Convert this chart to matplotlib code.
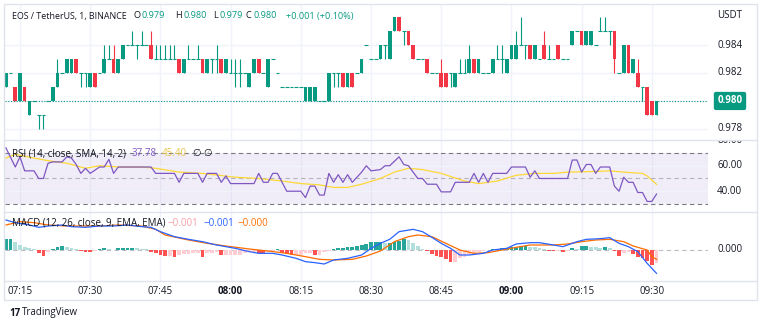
import numpy as np
import matplotlib
matplotlib.use("Agg")
import matplotlib.pyplot as plt
from matplotlib.transforms import blended_transform_factory, Bbox, TransformedBbox

# 1-minute EOS/USDT candles, 07:12 .. 09:31, prices in thousandths of USDT
opens = [981, 982, 981, 980, 981, 979, 980, 979, 979, 980,
         980, 981, 982, 982, 982, 983, 982, 982, 981, 982,
         982, 982, 983, 983, 982, 983, 984, 984, 984, 984,
         984, 984, 983, 983, 983, 983, 983, 983, 982, 983,
         983, 983, 983, 982, 983, 983, 983, 982, 982, 982,
         982, 982, 981, 982, 983, 982, 981, 983, 982, 981,
         981, 981, 981, 981, 980, 980, 980, 980, 980, 980,
         982, 982, 982, 981, 982, 982, 982, 984, 983, 983,
         983, 984, 983, 985, 986, 985, 985, 984, 983, 983,
         983, 982, 982, 982, 982, 982, 981, 982, 982, 982,
         983, 982, 982, 982, 982, 983, 983, 982, 983, 983,
         984, 984, 984, 983, 983, 984, 983, 983, 984, 983,
         983, 984, 985, 985, 984, 984, 984, 985, 985, 985,
         985, 982, 982, 984, 982, 982, 981, 981, 980, 979]
highs = [982, 982, 981, 982, 981, 980, 980, 979, 979, 980,
         981, 983, 982, 983, 983, 983, 982, 982, 982, 982,
         982, 984, 984, 984, 983, 984, 984, 985, 984, 985,
         984, 985, 984, 984, 984, 984, 984, 983, 983, 984,
         983, 984, 983, 983, 983, 984, 983, 983, 983, 983,
         983, 982, 982, 983, 983, 982, 983, 983, 982, 981,
         981, 981, 981, 981, 981, 981, 981, 980, 980, 982,
         982, 982, 982, 982, 982, 982, 983, 984, 983, 983,
         984, 984, 985, 986, 986, 985, 985, 984, 983, 983,
         983, 982, 982, 983, 982, 982, 982, 983, 983, 984,
         983, 983, 982, 982, 983, 984, 984, 983, 984, 985,
         986, 984, 984, 984, 983, 985, 984, 983, 984, 983,
         983, 985, 985, 985, 985, 985, 984, 986, 986, 985,
         985, 982, 984, 984, 983, 983, 981, 981, 980, 980]
lows = [981, 982, 980, 980, 980, 979, 980, 978, 978, 980,
        980, 981, 982, 982, 982, 982, 981, 981, 981, 981,
        982, 982, 983, 982, 982, 983, 984, 984, 983, 984,
        984, 983, 983, 983, 983, 983, 983, 982, 982, 983,
        983, 983, 982, 982, 982, 982, 982, 982, 982, 981,
        981, 982, 981, 982, 982, 982, 981, 983, 982, 981,
        981, 981, 981, 981, 980, 980, 980, 980, 980, 980,
        981, 981, 981, 981, 981, 982, 982, 984, 983, 983,
        983, 983, 983, 985, 985, 984, 984, 983, 983, 983,
        982, 982, 982, 981, 981, 981, 981, 982, 982, 982,
        982, 982, 982, 982, 982, 983, 982, 982, 983, 983,
        984, 983, 983, 983, 983, 983, 983, 983, 983, 983,
        983, 984, 985, 984, 984, 984, 984, 985, 985, 984,
        982, 982, 982, 982, 982, 981, 980, 979, 979, 979]
closes = [982, 982, 980, 982, 980, 980, 980, 979, 979, 980,
          981, 982, 982, 983, 983, 982, 982, 982, 982, 981,
          982, 983, 983, 982, 983, 984, 984, 984, 984, 984,
          984, 983, 983, 983, 983, 983, 983, 982, 983, 983,
          983, 983, 982, 983, 983, 983, 982, 983, 982, 982,
          982, 982, 982, 983, 982, 982, 983, 983, 982, 981,
          981, 981, 981, 981, 981, 981, 981, 980, 980, 982,
          982, 982, 981, 982, 981, 982, 983, 984, 983, 983,
          984, 984, 985, 986, 985, 985, 984, 983, 983, 983,
          982, 982, 982, 981, 981, 982, 982, 982, 982, 983,
          982, 983, 982, 982, 983, 983, 983, 983, 984, 984,
          984, 984, 983, 984, 983, 983, 983, 983, 983, 983,
          983, 985, 985, 984, 985, 985, 984, 985, 985, 985,
          983, 982, 984, 982, 983, 981, 981, 979, 979, 980]

# RSI (14) vertices: candle index, value
rsi_x = [0, 2, 3, 4, 6, 7, 8, 9, 10, 12, 13, 14, 15, 16, 17, 18, 20, 21, 22, 23, 24, 26, 31, 32,
         36, 37, 38, 41, 42, 43, 45, 46, 47, 48, 53, 54, 55, 56, 57, 58, 59, 60, 63, 64, 65, 66,
         67, 68, 69, 70, 71, 72, 73, 74, 76, 77, 78, 80, 81, 82, 84, 85, 86, 88, 89, 90, 92, 93,
         95, 96, 99, 100, 101, 102, 103, 104, 107, 108, 111, 112, 113, 114, 120, 121, 122, 123,
         124, 125, 126, 127, 129, 130, 131, 132, 133, 134, 135, 136, 137, 138, 139]
rsi_v = [74, 59, 67, 56, 56, 50, 50, 62, 63, 63, 67, 66, 61, 54, 58, 54, 59, 59, 65, 54, 59, 59, 59, 54,
         54, 47, 54, 54, 47, 54, 54, 47, 52, 46, 46, 54, 47, 47, 54, 54, 47, 40, 40, 35, 44, 44,
         37, 37, 54, 47, 53, 47, 53, 47, 55, 60, 56, 57, 60, 60, 67, 61, 60, 50, 50, 45.5, 45.5, 39.5,
         39.5, 47, 47, 54, 47, 54, 47, 54, 54, 59, 59, 51, 56, 50, 50, 64.5, 64.5, 55,
         61, 61, 54, 59, 59, 44, 40, 51, 47, 47, 39, 39, 32, 32, 37.78]
# RSI-based SMA (14)
sma_x = [0, 2, 6, 9, 13, 17, 20, 24, 29, 32, 37, 42, 49, 54, 59, 63, 67, 70, 73, 76, 80,
         83, 86, 89, 93, 98, 101, 105, 109, 113, 117, 120, 126, 129, 132, 136, 137, 139]
sma_v = [66, 69, 66, 64, 62, 58, 60, 59, 59, 58, 55, 54, 51, 50, 48, 46, 45, 43, 43, 45.5, 50,
         55, 58, 57, 54, 48, 46, 48, 52.5, 54, 54, 55, 55.5, 56, 55, 54, 52, 45.4]

# MACD (12, 26, 9), values in 1e-5 USDT
macd_x = [0, 2, 5, 7, 9, 12, 14, 17, 20, 23, 26, 29, 31, 33, 36, 39, 42, 45, 49, 52, 54, 57, 59,
          62, 64, 66, 68, 70, 73, 76, 78, 80, 82, 84, 87, 89, 91, 93, 95, 97, 99, 102, 104, 107,
          109, 112, 114, 117, 119, 122, 124, 127, 129, 131, 133, 135, 137, 139]
macd_v = [90, 82, 75, 68, 72, 75, 70, 68, 72, 72, 75, 70, 68, 55, 40, 32, 25, 15, 5, -5, -10, -10, -15,
          -25, -35, -38, -42, -30, -25, -15, 5, 20, 32, 55, 62, 55, 38, 20, 5, -15, -15, -10, 0, 5,
          18, 22, 22, 15, 10, 25, 32, 34, 37, 20, 10, -5, -40, -70]
signal_x = [0, 3, 6, 9, 13, 17, 20, 24, 29, 32, 34, 39, 43, 47, 52, 56, 60, 64, 67, 70, 74, 77, 80,
            83, 86, 88, 91, 94, 97, 100, 103, 106, 109, 112, 114, 117, 120, 123, 126, 129, 132,
            134, 137, 138, 139]
signal_v = [75, 85, 82, 75, 72, 72, 72, 75, 72, 62, 45, 30, 20, 12, 3, -3, -10, -20, -28, -30, -28, -18, -3,
            25, 40, 45, 40, 20, 0, -10, -8, 0, 8, 15, 15, 15, 18, 25, 30, 32, 25,
            12, 0, -20, -28]
hist = [32, 32, 25, 15, 10, 5, 2, -10, -18, -5,
        2, 8, 12, 10, 5, 2, -3, -5, -7, -3,
        2, 5, 2, 1, 5, 5, 6, 7, 5, 3,
        2, -7, -10, -15, -18, -18, -22, -15, -13, -12,
        -10, -8, -20, -10, -8, -6, -15, -15, -15, -15,
        -15, -8, -6, -5, -8, -10, -5, -5, 2, -8,
        -12, -15, -15, -15, -10, -10, -15, -15, -7, -3,
        2, 5, 7, 8, 10, 12, 15, 18, 23, 25,
        25, 20, 22, 25, 28, 32, 30, 20, 12, 2,
        -3, -13, -18, -22, -28, -35, -35, -25, -20, -15,
        -10, -6, -3, 1, 2, 4, 5, 7, 8, 10,
        12, 12, 10, 8, 5, 2, -2, -3, -3, -6,
        -2, 5, 4, 12, 12, 10, 8, 5, 8, 5,
        -2, -18, -10, -6, -13, -20, -25, -32, -45, -40]

time_ticks = [3, 18, 33, 48, 63, 78, 93, 108, 123, 138]
time_labels = ["07:15", "07:30", "07:45", "08:00", "08:15", "08:30", "08:45", "09:00", "09:15", "09:30"]
price_ticks = [0.978, 0.982, 0.984]
rsi_ticks = [40, 60, 80]

W, H = 760, 325
plt.rcParams['font.family'] = ['Open Sans', 'DejaVu Sans']
fig = plt.figure(figsize=(W / 100, H / 100), dpi=100)

GREEN = '#089981'
RED = '#F23645'
TXT = '#131722'
GRID = '#F0F3FA'
LINE = '#E0E3EB'
X0, X1 = -0.2, 150.0


def px_axes(x0, y0, x1, y1):
    ax = fig.add_axes([x0 / W, 1 - y1 / H, (x1 - x0) / W, (y1 - y0) / H])
    ax.set_xlim(X0, X1)
    for s in ax.spines.values():
        s.set_visible(False)
    ax.set_xticks([])
    ax.set_yticks([])
    ax.patch.set_alpha(0)
    for t in time_ticks:
        ax.axvline(t, color=GRID, lw=1, zorder=0)
    return ax


def ftext(x, y, s, **kw):
    kw.setdefault('va', 'center')
    kw.setdefault('fontsize', 7)
    return fig.text(x / W, 1 - y / H, s, **kw)


def scale_label(ax, v, s, clip=None, **kw):
    tr = blended_transform_factory(fig.transFigure, ax.transData)
    t = ax.text(717 / W, v, s, transform=tr, va='center', fontsize=7, color=TXT, **kw)
    if clip is not None:
        x0, y0, x1, y1 = clip
        t.set_clip_path(None)
        t.set_clip_box(TransformedBbox(Bbox.from_extents(x0 / W, 1 - y1 / H, x1 / W, 1 - y0 / H),
                                       fig.transFigure))
        t.set_clip_on(True)
    return t


# outer frame and pane separators
fig.patches.append(plt.Rectangle((4 / W, 1 - 300 / H), 753 / W, 296 / H, transform=fig.transFigure,
                                 fill=False, ec=LINE, lw=1))
for yy in [140, 212, 281]:
    fig.add_artist(plt.Line2D([4 / W, 757 / W], [1 - yy / H, 1 - yy / H], color=LINE, lw=1))

# ---- price pane
ax = px_axes(5, 5, 708, 140)
ax.set_ylim(0.97721, 0.98686)
o = np.array(opens) / 1000
h = np.array(highs) / 1000
l = np.array(lows) / 1000
c = np.array(closes) / 1000
idx = np.arange(len(o))
up = c >= o
col = np.where(up, GREEN, RED)
for p in [0.978, 0.980, 0.982, 0.984]:
    ax.axhline(p, color=GRID, lw=1, zorder=0)
ax.vlines(idx, l, h, colors=col, lw=0.8, zorder=2)
body = np.abs(c - o) > 1e-9
ax.bar(idx[body], np.abs(c - o)[body], bottom=np.minimum(o, c)[body], width=0.78,
       color=col[body], lw=0, zorder=3)
ax.hlines(o[~body], idx[~body] - 0.4, idx[~body] + 0.4, colors=col[~body], lw=0.8, zorder=3)
ax.axhline(c[-1], color=GREEN, lw=0.8, ls=(0, (1, 1.5)), zorder=1)
for p in price_ticks:
    scale_label(ax, p, f"{p:.3f}")
tr = blended_transform_factory(fig.transFigure, ax.transData)
ax.text(730 / W, c[-1], f"{c[-1]:.3f}", transform=tr, ha='center', va='center', fontsize=7,
        color='white', fontweight='bold',
        bbox=dict(boxstyle='round,pad=0.3,rounding_size=0.15', fc=GREEN, ec=GREEN))
ftext(717, 16, "USDT", color=TXT)

# header legend
ftext(12, 16, "EOS / TetherUS, 1, BINANCE", color=TXT, fontsize=6.4)
for x, s, cc in [(134, "O", TXT), (142, "0.979", GREEN), (175, "H", TXT), (183, "0.980", GREEN),
                 (213, "L", TXT), (219, "0.979", GREEN), (246, "C", TXT), (254, "0.980", GREEN),
                 (286, "+0.001 (+0.10%)", GREEN)]:
    ftext(x, 16, s, color=cc, fontsize=6.6)

# ---- RSI pane
ar = px_axes(5, 140, 708, 212)
ar.set_ylim(23.7, 80.2)
ar.axhspan(30, 70, color='#7E57C2', alpha=0.1, lw=0, zorder=0)
for v in [40, 60]:
    ar.axhline(v, color=GRID, lw=1, zorder=0)
ar.axhline(70, color='#787B86', lw=0.8, ls=(0, (4, 3)))
ar.axhline(30, color='#787B86', lw=0.8, ls=(0, (4, 3)))
ar.axhline(50, color='#787B86', lw=0.8, ls=(0, (4, 3)), alpha=0.5)
ar.plot(sma_x, sma_v, color='#FDD835', lw=0.9)
ar.plot(rsi_x, rsi_v, color='#7E57C2', lw=0.9)
for v in rsi_ticks:
    scale_label(ar, v, f"{v:.2f}", clip=(708, 141, 760, 212))
ftext(12, 154, "RSI (14, close, SMA, 14, 2)", color=TXT)
ftext(132, 154, "37.78", color='#7E57C2')
ftext(162, 154, "45.40", color='#E8C547')
ftext(192, 154, "\u2205", color=TXT)
ftext(203, 154, "\u2205", color=TXT)

# ---- MACD pane
am = px_axes(5, 212, 708, 281)
am.set_ylim(-0.00093, 0.00114)
hv = np.array(hist) * 1e-5
prev = np.concatenate([[hv[0] - 1], hv[:-1]])
hcol = np.where(hv >= 0, np.where(hv >= prev, '#26A69A', '#B2DFDB'),
                np.where(hv >= prev, '#FFCDD2', '#FF5252'))
am.bar(np.arange(len(hv)), hv, width=0.8, color=hcol, lw=0, zorder=2)
am.axhline(0, color='#787B86', lw=0.8, ls=(0, (4, 3)), alpha=0.5, zorder=1)
am.plot(signal_x, np.array(signal_v) * 1e-5, color='#FF6D00', lw=0.9, zorder=3)
am.plot(macd_x, np.array(macd_v) * 1e-5, color='#2962FF', lw=0.9, zorder=4)
scale_label(am, 0.0, "0.000")
ftext(12, 223, "MACD (12, 26, close, 9, EMA, EMA)", color=TXT)
ftext(168, 223, "\u22120.001", color='#F7A1A8')
ftext(203, 223, "\u22120.001", color='#2962FF')
ftext(238, 223, "\u22120.000", color='#FF6D00')

# ---- time axis
ta = px_axes(5, 281, 708, 300)
ta.set_ylim(0, 1)
for ln in ta.lines:
    ln.set_visible(False)
for t, s in zip(time_ticks, time_labels):
    bold = s.endswith(":00")
    ta.text(t, 0.45, s, ha='center', va='center', fontsize=7, color=TXT,
            fontweight='bold' if bold else 'normal')

ftext(9, 313, "17", color=TXT, fontweight='bold', fontsize=7)
ftext(22, 313, "TradingView", color=TXT, fontsize=7)

fig.savefig("out.png", dpi=100)
